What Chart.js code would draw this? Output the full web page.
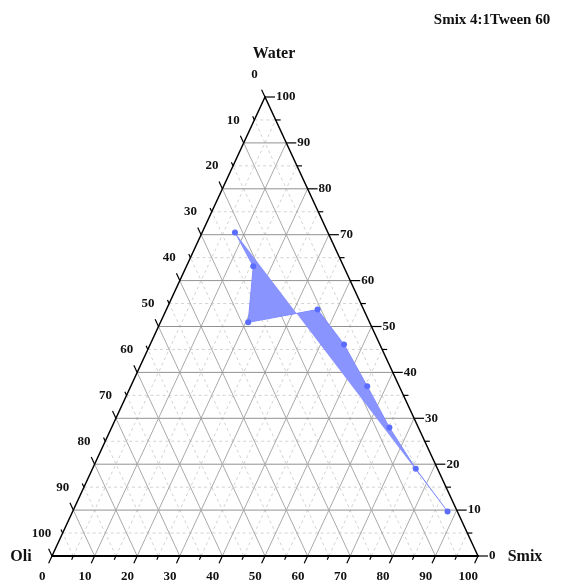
<!DOCTYPE html>
<html>
<head>
<meta charset="utf-8">
<script src="https://cdn.jsdelivr.net/npm/chart.js@4.4.1/dist/chart.umd.min.js"></script>
<style>
  html, body { margin: 0; padding: 0; background: #fff; }
</style>
</head>
<body>
<canvas id="chart" width="564" height="585"></canvas>
<script>
// composition of each sample (%)
const oli   = [21.8, 21.2, 28.5, 10.8, 8.4, 7.5, 6.8, 5.1, 2.3];
const smix  = [7.7, 15.7, 20.6, 35.5, 45.5, 55.5, 65.2, 75.9, 88.0];
const water = [70.5, 63.1, 50.9, 53.7, 46.1, 37.0, 28.0, 19.0, 9.7];
const tickValues = [0, 10, 20, 30, 40, 50, 60, 70, 80, 90, 100];

// ternary -> cartesian (x along Oli->Smix, y up to Water)
const toXY = (o, s, w) => {
  const t = o + s + w;
  return { x: (s + w / 2) / t * 100, y: w / t * 100 };
};
const points = oli.map((o, i) => toXY(o, smix[i], water[i]));

const FONT = '"Liberation Serif", "Times New Roman", serif';

const ternaryFrame = {
  id: 'ternaryFrame',
  beforeDatasetsDraw(chart) {
    const { ctx, scales: { x, y } } = chart;
    const px = (s, w) => [x.getPixelForValue(s + w / 2), y.getPixelForValue(w)];
    const seg = (a, b) => { ctx.beginPath(); ctx.moveTo(a[0], a[1]); ctx.lineTo(b[0], b[1]); ctx.stroke(); };
    ctx.save();
    ctx.lineWidth = 1;
    // minor grid, dashed
    ctx.setLineDash([3, 3]);
    ctx.strokeStyle = '#d2d2d2';
    for (let v = 5; v < 100; v += 10) {
      seg(px(0, v), px(100 - v, v));
      seg(px(v, 0), px(v, 100 - v));
      seg(px(100 - v, 0), px(0, 100 - v));
    }
    // major grid
    ctx.setLineDash([]);
    for (let v = 10; v < 100; v += 10) {
      ctx.strokeStyle = '#a9a9a9';
      seg(px(v, 0), px(v, 100 - v));
      seg(px(100 - v, 0), px(0, 100 - v));
      ctx.strokeStyle = '#929292';
      seg(px(0, v), px(100 - v, v));
    }
    ctx.restore();
  },
  afterDraw(chart) {
    const { ctx, scales: { x, y } } = chart;
    const px = (s, w) => [x.getPixelForValue(s + w / 2), y.getPixelForValue(w)];
    const A = px(0, 0), B = px(100, 0), C = px(0, 100);
    const norm = (v) => { const l = Math.hypot(v[0], v[1]); return [v[0] / l, v[1] / l]; };
    const dBottom = norm([A[0] - C[0], A[1] - C[1]]);
    const dLeft = norm([C[0] - B[0], C[1] - B[1]]);
    const dRight = [1, 0];

    ctx.save();
    ctx.strokeStyle = '#000';
    ctx.lineCap = 'butt';
    // frame
    ctx.lineWidth = 1.5;
    ctx.beginPath();
    ctx.moveTo(A[0], A[1]); ctx.lineTo(C[0], C[1]); ctx.lineTo(B[0], B[1]);
    ctx.stroke();
    ctx.lineWidth = 2.2;
    ctx.beginPath();
    ctx.moveTo(A[0] - 1, A[1]); ctx.lineTo(B[0] + 1, B[1]);
    ctx.stroke();

    // ticks
    ctx.lineWidth = 1.2;
    const tick = (p, d, len) => {
      ctx.beginPath(); ctx.moveTo(p[0], p[1]);
      ctx.lineTo(p[0] + d[0] * len, p[1] + d[1] * len); ctx.stroke();
    };
    for (let v = 0; v <= 100; v += 5) {
      const len = v % 10 === 0 ? 8 : 4;
      tick(px(v, 0), dBottom, len);
      tick(px(0, 100 - v), dLeft, len);
      tick(px(100 - v, v), dRight, v % 10 === 0 ? 10 : 5);
    }

    // tick labels
    ctx.fillStyle = '#111';
    ctx.font = 'bold 13px ' + FONT;
    ctx.textBaseline = 'middle';
    ctx.textAlign = 'center';
    tickValues.forEach(v => {
      const p = px(v, 0);
      ctx.fillText(String(v), p[0] + dBottom[0] * 23, p[1] + dBottom[1] * 23);
      const q = px(0, 100 - v);
      ctx.fillText(String(v), q[0] + dLeft[0] * 25, q[1] + dLeft[1] * 25);
    });
    ctx.textAlign = 'left';
    tickValues.forEach(v => {
      const p = px(100 - v, v);
      ctx.fillText(String(v), p[0] + 11, p[1]);
    });

    // axis titles
    ctx.font = 'bold 16px ' + FONT;
    ctx.textAlign = 'center';
    ctx.fillText('Water', C[0] + 9, C[1] - 43);
    ctx.fillText('Oli', A[0] - 31, A[1] + 1);
    ctx.fillText('Smix', B[0] + 47, B[1] + 1);
    ctx.font = 'bold 15px ' + FONT;
    ctx.fillText('Smix 4:1Tween 60', 492, 20);
    ctx.restore();
  }
};

new Chart(document.getElementById('chart'), {
  type: 'scatter',
  data: {
    datasets: [{
      data: points,
      showLine: true,
      fill: 'shape',
      backgroundColor: '#8a94ff',
      borderColor: '#7e8aff',
      borderWidth: 1,
      pointRadius: 3,
      pointBackgroundColor: '#5b6dff',
      pointBorderWidth: 0,
      clip: false
    }]
  },
  options: {
    responsive: false,
    animation: false,
    layout: { padding: { left: 52, right: 86, top: 97, bottom: 29 } },
    scales: {
      x: { type: 'linear', min: 0, max: 100, display: false },
      y: { type: 'linear', min: 0, max: 100, display: false }
    },
    plugins: { legend: { display: false }, tooltip: { enabled: false } }
  },
  plugins: [ternaryFrame]
});
</script>
</body>
</html>
